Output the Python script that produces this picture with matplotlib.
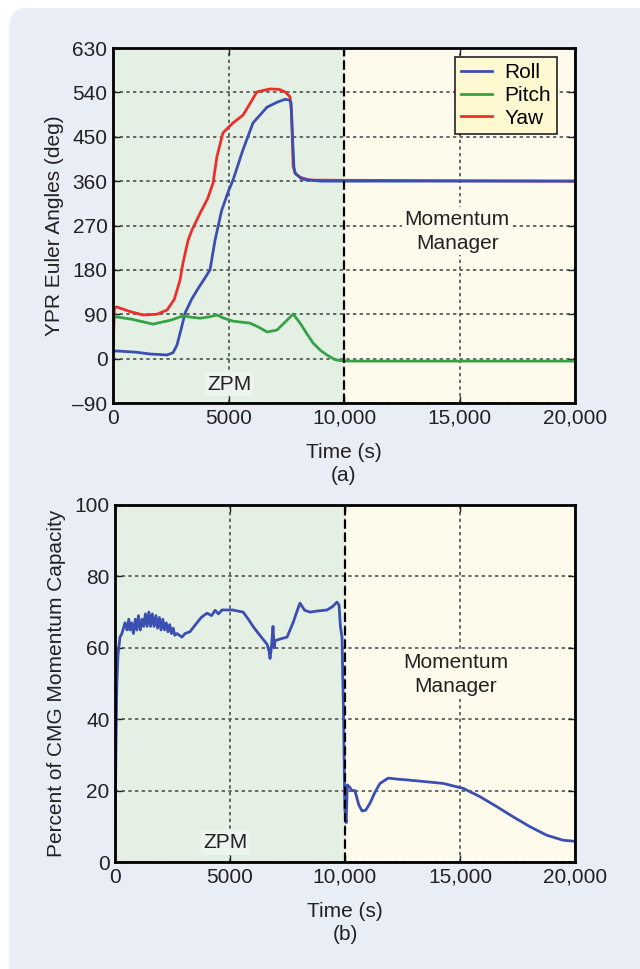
import matplotlib
matplotlib.use("Agg")
import matplotlib.pyplot as plt
from matplotlib.patches import FancyBboxPatch
import numpy as np

plt.rcParams['font.family'] = ['Liberation Sans', 'DejaVu Sans']

# ---------------- Data (a) ----------------
roll_t = [0, 170, 1000, 1600, 2340, 2600, 2770, 2950, 3120, 3400, 3640, 4000, 4200, 4416, 4700,
          5000, 5195, 5600, 6060, 6667, 7100, 7446, 7650, 7705, 7770, 7830, 7880, 8180, 9000, 20000]
roll_v = [15, 15.5, 13, 9.4, 7.4, 12, 27.6, 60, 92.5, 120, 139, 165, 180, 240, 300,
          340, 362, 420, 478, 510, 520, 526, 524, 520, 450, 390, 376, 364, 360, 360]

pitch_t = [0, 170, 800, 1730, 2500, 3030, 3400, 3770, 4200, 4500, 4800, 5200, 5930, 6300,
           6670, 7100, 7450, 7800, 8100, 8400, 8660, 9000, 9260, 9600, 9960, 10500, 20000]
pitch_v = [84, 84.4, 80, 70, 78, 86.5, 84, 82, 85, 88.5, 82, 76, 72, 64,
           54, 58, 74, 90.5, 72, 50, 31.7, 16, 7.4, -2, -4.8, -5, -5]

yaw_t = [0, 60, 170, 700, 1300, 1900, 2340, 2650, 2900, 3030, 3250, 3420, 3770, 4100, 4330,
         4500, 4760, 5195, 5630, 5900, 6230, 6800, 7200, 7450, 7660, 7730, 7780, 7800, 7900,
         8100, 8500, 20000]
yaw_v = [5, 104, 104.7, 96, 88.5, 90, 98.6, 120, 159, 194, 240, 261, 295, 325, 356,
         410, 458, 478, 494, 515, 541, 547, 546, 541, 531, 500, 420, 389, 375,
         368, 362, 360]

# ---------------- Data (b) ----------------
cmg_t = [0, 40, 80, 130, 217, 300, 435, 520, 600, 652, 720, 800, 880, 950, 1020, 1100, 1180,
         1250, 1320, 1400, 1470, 1550, 1620, 1700, 1780, 1850, 1930, 2000, 2080, 2150, 2230,
         2300, 2380, 2450, 2530, 2600, 2700, 2800, 2910, 3050, 3260, 3500, 3750, 4000, 4200,
         4350, 4500, 4650, 4870, 5100, 5570, 5800, 6000, 6300, 6610, 6700, 6740, 6800, 6870,
         6920, 6960, 7200, 7480, 7740, 7900, 8040, 8250, 8480, 8800, 9220, 9450, 9650, 9740,
         9800, 9870, 9940, 9990, 10050, 10100, 10200, 10300, 10430, 10600, 10740, 10900, 11090,
         11300, 11520, 11880, 12300, 12680, 13500, 14280, 15150, 15870, 16600, 17300, 18040,
         18770, 19480, 20000]
cmg_v = [3, 31, 50, 58, 63, 64, 67, 65, 68, 65, 67, 64, 68, 65, 69, 65, 68,
         66, 69.5, 66, 70, 66, 69.5, 66, 69, 65.5, 68.5, 65, 68, 65, 67,
         64.5, 66.5, 64, 65.5, 63.5, 64, 63.5, 63, 64, 64.5, 66.5, 68.5, 69.7, 69,
         70.5, 69.5, 70.6, 70.6, 70.6, 70, 68, 66, 63.5, 61, 59, 57, 60, 66,
         60, 62, 62.5, 63, 67, 70, 72.5, 70.5, 70, 70.3, 70.6, 71.5, 72.8, 72,
         66, 63, 40, 15, 11, 21.6, 21, 20, 20, 16, 14.3, 14.5, 16.5,
         19.5, 22, 23.5, 23.2, 23, 22.5, 22, 20.6, 18.3, 15.5, 12.7, 9.9,
         7.5, 6.1, 5.8]

x_ticks = [0, 5000, 10000, 15000, 20000]
x_ticklabels = ['0', '5000', '10,000', '15,000', '20,000']
a_yticks = [-90, 0, 90, 180, 270, 360, 450, 540, 630]
a_yticklabels = ['\u201390', '0', '90', '180', '270', '360', '450', '540', '630']
b_yticks = [0, 20, 40, 60, 80, 100]

# ---------------- Styling ----------------
W, H = 640, 969
fig = plt.figure(figsize=(W / 100, H / 100), dpi=100, facecolor='white')
panel_bg = '#e9edf6'
fig.patches.append(FancyBboxPatch((9 / W, -0.05), 1 - 9 / W + 0.05, 1.05 - 8 / H,
                                  boxstyle='round,pad=0,rounding_size=0.025',
                                  transform=fig.transFigure, facecolor=panel_bg,
                                  edgecolor='none', zorder=-5))

green_bg = '#e5f0e5'
yellow_bg = '#fffbec'
c_roll = '#3b4fb3'
c_pitch = '#35a244'
c_yaw = '#ec2f2a'
fs = 15
tc = '#222222'


def ax_rect(l, t, r, b):
    return [l / W, 1 - b / H, (r - l) / W, (b - t) / H]


def style_axes(ax, ylo, yhi, yticks, ylabels):
    ax.set_facecolor('none')
    ax.set_xlim(0, 20000)
    ax.set_ylim(ylo, yhi)
    ax.axvspan(0, 10000, color=green_bg, zorder=0)
    ax.axvspan(10000, 20000, color=yellow_bg, zorder=0)
    ax.set_xticks(x_ticks)
    ax.set_xticklabels(x_ticklabels)
    ax.set_yticks(yticks)
    ax.set_yticklabels(ylabels)
    ax.grid(True, color='#505050', linestyle=(0, (2, 2)), linewidth=1.2, zorder=1)
    ax.set_axisbelow(False)
    ax.axvline(10000, color='black', linestyle=(0, (4, 2)), linewidth=1.6, zorder=4)
    ax.tick_params(direction='in', length=5, width=1, top=True, right=True,
                   labelsize=fs, colors=tc, pad=4)
    for s in ax.spines.values():
        s.set_linewidth(2)
        s.set_color('black')
        s.set_zorder(6)


# ---------------- Panel (a) ----------------
ax1 = fig.add_axes(ax_rect(113, 48, 575, 403))
style_axes(ax1, -90, 630, a_yticks, a_yticklabels)
ax1.plot(roll_t, roll_v, color=c_roll, lw=2, label='Roll', zorder=3)
ax1.plot(pitch_t, pitch_v, color=c_pitch, lw=2, label='Pitch', zorder=3)
ax1.plot(yaw_t, yaw_v, color=c_yaw, lw=2, label='Yaw', zorder=2.9)
ax1.set_ylabel('YPR Euler Angles (deg)', fontsize=fs, color=tc, labelpad=6)
ax1.set_xlabel('Time (s)\n(a)', fontsize=fs, color=tc, labelpad=11, linespacing=1.3)
ax1.text(5050, -52, 'ZPM', fontsize=fs, ha='center', va='center', color=tc, zorder=5,
         bbox=dict(facecolor='#edf4ed', edgecolor='none', pad=2))
ax1.text(14900, 258, 'Momentum\nManager', fontsize=fs, ha='center', va='center',
         color=tc, zorder=5, linespacing=1.3,
         bbox=dict(facecolor=yellow_bg, edgecolor='none', pad=2))
leg = ax1.legend(loc='upper right', bbox_to_anchor=(0.962, 0.975), fontsize=fs,
                 frameon=True, fancybox=False, facecolor='#fff9d2', edgecolor=tc,
                 framealpha=1, handlelength=1.5, handletextpad=0.6, borderpad=0.3,
                 labelspacing=0.18, borderaxespad=0)
leg.get_frame().set_linewidth(1.2)
leg.set_zorder(7)

# ---------------- Panel (b) ----------------
ax2 = fig.add_axes(ax_rect(115, 505, 575, 862))
style_axes(ax2, 0, 100, b_yticks, [str(v) for v in b_yticks])
ax2.plot(cmg_t, cmg_v, color=c_roll, lw=2, zorder=3)
ax2.set_ylabel('Percent of CMG Momentum Capacity', fontsize=fs, color=tc, labelpad=6)
ax2.set_xlabel('Time (s)\n(b)', fontsize=fs, color=tc, labelpad=11, linespacing=1.3)
ax2.text(4800, 5.5, 'ZPM', fontsize=fs, ha='center', va='center', color=tc, zorder=5,
         bbox=dict(facecolor='#edf4ed', edgecolor='none', pad=2))
ax2.text(14800, 52.5, 'Momentum\nManager', fontsize=fs, ha='center', va='center',
         color=tc, zorder=5, linespacing=1.3,
         bbox=dict(facecolor=yellow_bg, edgecolor='none', pad=2))

fig.savefig('out.png', dpi=100, facecolor=fig.get_facecolor())
